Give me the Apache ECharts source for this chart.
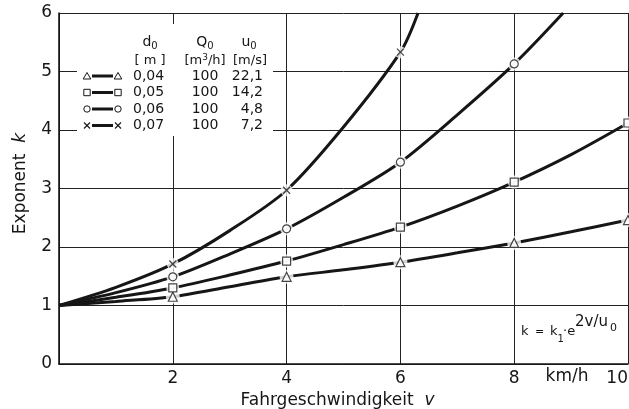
<!DOCTYPE html>
<html><head><meta charset="utf-8">
<script src="https://cdn.jsdelivr.net/npm/echarts@6/dist/echarts.min.js"></script>
<style>html,body{margin:0;padding:0;background:#fff}#c{width:629px;height:409px}</style>
</head><body><div id="c"></div>
<script>
// ---- data ----
// marker positions (v = 0..10 step 2)
const v = [0, 2, 4, 6, 8, 10];
const k004 = [1, 1.15, 1.49, 1.74, 2.07, 2.46];
const k005 = [1, 1.30, 1.76, 2.34, 3.11, 4.12];
const k006 = [1, 1.49, 2.31, 3.45, 5.13, null];
const k007 = [1, 1.71, 2.97, 5.33, null, null];
// curve readings between markers (odd v) and where curves leave the top of the chart
const k004Extra = [[1, 1.07], [3, 1.32], [5, 1.61], [7, 1.90], [9, 2.26]];
const k005Extra = [[1, 1.14], [3, 1.52], [5, 2.04], [7, 2.70], [9, 3.58]];
const k006Extra = [[1, 1.22], [3, 1.88], [5, 2.85], [7, 4.26], [8.86, 6.0]];
const k007Extra = [[1, 1.31], [3, 2.28], [5, 4.05], [6.31, 6.0]];
const d0 = ['0,04', '0,05', '0,06', '0,07'];
const Q0 = ['100', '100', '100', '100'];
const u0 = ['22,1', '14,2', '4,8', '7,2'];
const xTicks = [0, 2, 4, 6, 8, 10];
const yTicks = [0, 1, 2, 3, 4, 5, 6];

const INK = '#161616';
const FONT = 'DejaVu Sans';
const xSym = 'path://M0,0L10,10M10,0L0,10';
const symbols = ['triangle', 'rect', 'circle', xSym];
const symSizes = [9, 8, 8, 7];
const all = [k004, k005, k006, k007];
const extras = [k004Extra, k005Extra, k006Extra, k007Extra];

function linePts(arr, ex) {
  const p = [];
  v.forEach((x, i) => { if (arr[i] != null) p.push([x, arr[i]]); });
  ex.forEach(e => p.push(e));
  p.sort((a, b) => a[0] - b[0]);
  return p;
}
function markPts(arr) {
  const p = [];
  v.forEach((x, i) => { if (x > 0 && arr[i] != null) p.push([x, arr[i]]); });
  return p;
}

const series = [];
all.forEach((arr, i) => {
  series.push({
    type: 'line', data: linePts(arr, extras[i]), smooth: 0.3, showSymbol: false,
    lineStyle: { color: INK, width: 3 }, z: 2, silent: true, clip: true
  });
  series.push({
    type: 'scatter', data: markPts(arr), symbol: 'circle', symbolSize: symSizes[i] + 5,
    itemStyle: { color: '#fff' }, z: 3, silent: true
  });
  series.push({
    type: 'scatter', data: markPts(arr), symbol: symbols[i], symbolSize: symSizes[i],
    itemStyle: { color: '#fff', borderColor: INK, borderWidth: 1.2 }, z: 4, silent: true
  });
});

// legend graphics
const g = [];
g.push({ type: 'rect', shape: { x: 77, y: 24, width: 196, height: 112 }, style: { fill: '#fff' }, z: 5 });
const tstyle = (extra) => Object.assign({ fill: INK, font: '13px "DejaVu Sans"', textAlign: 'center', textVerticalAlign: 'middle' }, extra || {});
const subRich = { a: { fontSize: 14, fontFamily: FONT, fill: INK }, s: { fontSize: 10, fontFamily: FONT, fill: INK, padding: [8, 0, 0, 0] } };
g.push({ type: 'text', x: 150, y: 42, z: 6, style: tstyle({ text: '{a|d}{s|0}', rich: subRich }) });
g.push({ type: 'text', x: 205, y: 42, z: 6, style: tstyle({ text: '{a|Q}{s|0}', rich: subRich }) });
g.push({ type: 'text', x: 249, y: 42, z: 6, style: tstyle({ text: '{a|u}{s|0}', rich: subRich }) });
g.push({ type: 'text', x: 150, y: 61, z: 6, style: tstyle({ text: '[ m ]' }) });
g.push({ type: 'text', x: 205, y: 61, z: 6, style: tstyle({ text: '{a|[m}{s|3}{a|/h]}', rich: { a: { fontSize: 13, fontFamily: FONT, fill: INK }, s: { fontSize: 9, fontFamily: FONT, fill: INK, padding: [0, 0, 6, 0] } } }) });
g.push({ type: 'text', x: 250, y: 61, z: 6, style: tstyle({ text: '[m/s]' }) });
const rowY = [76, 92.5, 109, 125.5];
rowY.forEach((y, i) => {
  g.push({ type: 'line', shape: { x1: 92, y1: y, x2: 113, y2: y }, style: { stroke: INK, lineWidth: 3 }, z: 6 });
  [87, 118].forEach(cx => {
    if (i === 0) g.push({ type: 'polygon', shape: { points: [[cx, y - 3.5], [cx + 3.8, y + 3], [cx - 3.8, y + 3]] }, style: { fill: '#fff', stroke: INK, lineWidth: 1 }, z: 6 });
    if (i === 1) g.push({ type: 'rect', shape: { x: cx - 3.2, y: y - 3.2, width: 6.4, height: 6.4 }, style: { fill: '#fff', stroke: INK, lineWidth: 1 }, z: 6 });
    if (i === 2) g.push({ type: 'circle', shape: { cx: cx, cy: y, r: 3.2 }, style: { fill: '#fff', stroke: INK, lineWidth: 1 }, z: 6 });
    if (i === 3) {
      g.push({ type: 'line', shape: { x1: cx - 3, y1: y - 3, x2: cx + 3, y2: y + 3 }, style: { stroke: INK, lineWidth: 1.1 }, z: 6 });
      g.push({ type: 'line', shape: { x1: cx + 3, y1: y - 3, x2: cx - 3, y2: y + 3 }, style: { stroke: INK, lineWidth: 1.1 }, z: 6 });
    }
  });
  g.push({ type: 'text', x: 133, y: y, z: 6, style: tstyle({ text: d0[i], textAlign: 'left', font: '14px "DejaVu Sans"' }) });
  g.push({ type: 'text', x: 205, y: y, z: 6, style: tstyle({ text: Q0[i], font: '14px "DejaVu Sans"' }) });
  g.push({ type: 'text', x: 263, y: y, z: 6, style: tstyle({ text: u0[i], textAlign: 'right', font: '14px "DejaVu Sans"' }) });
});
// formula  k = k1 · e^(2v/u0)
const fs = (t, x, y, size) => ({ type: 'text', x: x, y: y, z: 6, style: { text: t, fill: INK, font: size + 'px "DejaVu Sans"', textVerticalAlign: 'middle' } });
g.push(fs('k', 521, 332, 13));
g.push(fs('=', 535, 332, 11));
g.push(fs('k', 550, 332, 13));
g.push(fs('1', 557.5, 339, 10));
g.push(fs('·e', 563, 332, 13));
g.push(fs('2v/u', 575, 322, 15));
g.push(fs('0', 610, 328, 11));
// unit on x axis
g.push({ type: 'text', x: 567, y: 377, z: 6, style: { text: 'km/h', fill: INK, font: '17px "DejaVu Sans"', textAlign: 'center', textVerticalAlign: 'middle' } });

const chart = echarts.init(document.getElementById('c'), null, { renderer: 'canvas' });
chart.setOption({
  animation: false,
  backgroundColor: '#fff',
  grid: { left: 59, right: 1, top: 13, bottom: 45, containLabel: false, outerBoundsMode: 'none' },
  xAxis: {
    type: 'value', min: xTicks[0], max: xTicks[xTicks.length - 1], interval: 2,
    axisLine: { show: true, lineStyle: { color: INK, width: 1.6 } },
    axisTick: { show: false },
    splitLine: { show: true, lineStyle: { color: '#222', width: 1 } },
    axisLabel: { color: INK, fontSize: 17, fontFamily: FONT, margin: 6, alignMaxLabel: 'right', formatter: val => val === 0 ? '' : String(val) },
    name: '{n|Fahrgeschwindigkeit}{i|  v}', nameLocation: 'middle', nameGap: 28,
    nameTextStyle: { padding: [0, 12, 0, 0], rich: { n: { fontSize: 17, fontFamily: FONT, color: INK }, i: { fontSize: 17, fontFamily: FONT, fontStyle: 'italic', color: INK } } }
  },
  yAxis: {
    type: 'value', min: yTicks[0], max: yTicks[yTicks.length - 1], interval: 1,
    axisLine: { show: true, lineStyle: { color: INK, width: 1.6 } },
    axisTick: { show: false },
    splitLine: { show: true, lineStyle: { color: '#222', width: 1 } },
    axisLabel: { color: INK, fontSize: 17, fontFamily: FONT, margin: 7 },
    name: '{n|Exponent}{i|  k}', nameLocation: 'middle', nameGap: 30, nameRotate: 90,
    nameTextStyle: { padding: [0, 0, 0, 10], rich: { n: { fontSize: 17, fontFamily: FONT, color: INK }, i: { fontSize: 17, fontFamily: FONT, fontStyle: 'italic', color: INK } } }
  },
  graphic: g,
  series: series
});
</script></body></html>
